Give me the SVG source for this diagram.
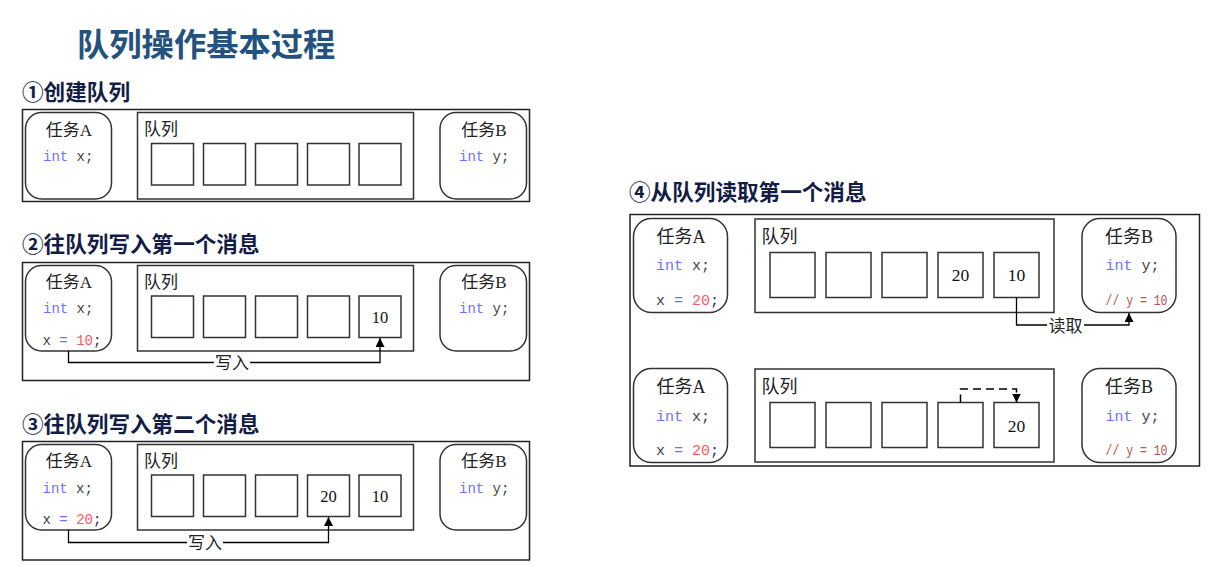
<svg xmlns="http://www.w3.org/2000/svg" width="1213" height="572" viewBox="0 0 1213 572">
<defs>
<marker id="ah" markerUnits="userSpaceOnUse" markerWidth="10" markerHeight="10" refX="9" refY="4.5" orient="auto">
<path d="M0,0 L9,4.5 L0,9 z" fill="#000"/>
</marker>
<style>
.title{font-family:"Noto Sans CJK SC","Noto Sans",sans-serif;font-weight:bold;font-size:32.3px;fill:#24527f}
.sub{font-family:"Noto Sans CJK SC","Noto Sans",sans-serif;font-weight:bold;font-size:21.6px;fill:#121c45}
.outer{fill:none;stroke:#222;stroke-width:1.5}
.task{fill:#fff;stroke:#333;stroke-width:1.5}
.queue{fill:#fff;stroke:#333;stroke-width:1.5}
.cell{fill:#fff;stroke:#333;stroke-width:1.5}
.lbl{font-family:"Liberation Serif","Noto Sans CJK SC",serif;font-size:17px;fill:#222}
.lbl4{font-family:"Liberation Serif","Noto Sans CJK SC",serif;font-size:18px;fill:#222}
.num{font-family:"Liberation Serif",serif;font-size:16.5px;fill:#111;text-anchor:middle}
.num4{font-family:"Liberation Serif",serif;font-size:17.5px;fill:#111;text-anchor:middle}
.code{font-family:"Liberation Mono","DejaVu Sans Mono",monospace;font-size:14px;fill:#444}
.code4{font-family:"Liberation Mono","DejaVu Sans Mono",monospace;font-size:15px;fill:#444}
.kw{fill:#6f6fff}
.val{fill:#ff5a5a}
.semi{fill:#2c2c66}
.cmt{font-family:"Liberation Mono","DejaVu Sans Mono",monospace;font-size:14.5px;fill:#c0504d}
.conn{fill:none;stroke:#000;stroke-width:1.3}
.dash{fill:none;stroke:#000;stroke-width:1.5;stroke-dasharray:8,5}
.clbl{font-family:"Liberation Serif","Noto Sans CJK SC",serif;font-size:17px;fill:#222;text-anchor:middle}
.mid{text-anchor:middle}
</style>
</defs>
<rect width="1213" height="572" fill="#fff"/>

<text class="title" x="77" y="56">队列操作基本过程</text>
<text class="sub" x="22" y="99.5">①创建队列</text>
<text class="sub" x="22" y="251.5">②往队列写入第一个消息</text>
<text class="sub" x="22" y="431.5">③往队列写入第二个消息</text>
<text class="sub" x="629" y="200">④从队列读取第一个消息</text>

<!-- Panel frames -->
<rect class="outer" x="22.5" y="109.5" width="507" height="92"/>
<rect class="outer" x="22.5" y="262.5" width="507" height="118"/>
<rect class="outer" x="22.5" y="441.5" width="507" height="118.5"/>
<rect class="outer" x="630" y="214.5" width="569.5" height="251.5"/>

<!-- Panel 1 -->
<g id="p1-taskA">
<rect class="task" x="25.5" y="112.5" width="86" height="86.5" rx="16"/>
<text class="lbl mid" x="69" y="135.5">任务A</text>
<text class="code" x="43" y="160.5"><tspan class="kw">int</tspan> x;</text>
</g>
<g id="p1-queue">
<rect class="queue" x="137.5" y="112.5" width="276" height="86.5"/>
<text class="lbl" x="144" y="135">队列</text>
<rect class="cell" x="151.5" y="143.5" width="42" height="41.5"/>
<rect class="cell" x="203.5" y="143.5" width="42" height="41.5"/>
<rect class="cell" x="255.5" y="143.5" width="42" height="41.5"/>
<rect class="cell" x="307.5" y="143.5" width="42" height="41.5"/>
<rect class="cell" x="359" y="143.5" width="42" height="41.5"/>
</g>
<g id="p1-taskB">
<rect class="task" x="440" y="112.5" width="86.5" height="86.5" rx="16"/>
<text class="lbl mid" x="484" y="135.5">任务B</text>
<text class="code" x="459" y="160.5"><tspan class="kw">int</tspan> y;</text>
</g>

<!-- Panel 2 -->
<g id="p2-taskA">
<rect class="task" x="25.5" y="265.5" width="86" height="85.5" rx="16"/>
<text class="lbl mid" x="69" y="288">任务A</text>
<text class="code" x="43" y="313"><tspan class="kw">int</tspan> x;</text>
<text class="code" x="42.5" y="345">x <tspan class="kw">=</tspan> <tspan class="val">10</tspan><tspan class="semi">;</tspan></text>
</g>
<g id="p2-queue">
<rect class="queue" x="137.5" y="265.5" width="276" height="85.5"/>
<text class="lbl" x="144" y="287.5">队列</text>
<rect class="cell" x="151.5" y="296" width="42" height="41.5"/>
<rect class="cell" x="203.5" y="296" width="42" height="41.5"/>
<rect class="cell" x="255.5" y="296" width="42" height="41.5"/>
<rect class="cell" x="307.5" y="296" width="42" height="41.5"/>
<rect class="cell" x="359" y="296" width="42" height="41.5"/>
<text class="num" x="380" y="322.5">10</text>
</g>
<g id="p2-taskB">
<rect class="task" x="440" y="265.5" width="86.5" height="85.5" rx="16"/>
<text class="lbl mid" x="484" y="288">任务B</text>
<text class="code" x="459" y="313"><tspan class="kw">int</tspan> y;</text>
</g>

<!-- Panel 3 -->
<g id="p3-taskA">
<rect class="task" x="25.5" y="444.5" width="86" height="85.5" rx="16"/>
<text class="lbl mid" x="69" y="467">任务A</text>
<text class="code" x="42.5" y="492.5"><tspan class="kw">int</tspan> x;</text>
<text class="code" x="42.5" y="523.5">x <tspan class="kw">=</tspan> <tspan class="val">20</tspan><tspan class="semi">;</tspan></text>
</g>
<g id="p3-queue">
<rect class="queue" x="137.5" y="444.5" width="276" height="85.5"/>
<text class="lbl" x="144" y="466.5">队列</text>
<rect class="cell" x="151.5" y="475" width="42" height="41.5"/>
<rect class="cell" x="203.5" y="475" width="42" height="41.5"/>
<rect class="cell" x="255.5" y="475" width="42" height="41.5"/>
<rect class="cell" x="307.5" y="475" width="42" height="41.5"/>
<rect class="cell" x="359" y="475" width="42" height="41.5"/>
<text class="num" x="328.5" y="501.5">20</text>
<text class="num" x="380" y="501.5">10</text>
</g>
<g id="p3-taskB">
<rect class="task" x="440" y="444.5" width="86.5" height="85.5" rx="16"/>
<text class="lbl mid" x="484" y="467">任务B</text>
<text class="code" x="459" y="492.5"><tspan class="kw">int</tspan> y;</text>
</g>

<!-- Panel 4 upper -->
<g id="p4a-taskA">
<rect class="task" x="633.5" y="218.5" width="94" height="94" rx="18"/>
<text class="lbl4 mid" x="681" y="242.5">任务A</text>
<text class="code4" x="656" y="270"><tspan class="kw">int</tspan> x;</text>
<text class="code4" x="656" y="304.5">x <tspan class="kw">=</tspan> <tspan class="val">20</tspan><tspan class="semi">;</tspan></text>
</g>
<g id="p4a-queue">
<rect class="queue" x="755" y="219" width="299" height="93.5"/>
<text class="lbl4" x="761.5" y="242.5">队列</text>
<rect class="cell" x="770" y="252.5" width="45" height="45"/>
<rect class="cell" x="826" y="252.5" width="45" height="45"/>
<rect class="cell" x="882" y="252.5" width="45" height="45"/>
<rect class="cell" x="938" y="252.5" width="45" height="45"/>
<rect class="cell" x="994" y="252.5" width="45" height="45"/>
<text class="num4" x="960.5" y="281">20</text>
<text class="num4" x="1016.5" y="281">10</text>
</g>
<g id="p4a-taskB">
<rect class="task" x="1082" y="218.5" width="94" height="94" rx="18"/>
<text class="lbl4 mid" x="1129" y="242.5">任务B</text>
<text class="code4" x="1105.5" y="270"><tspan class="kw">int</tspan> y;</text>
<text class="cmt" x="1105.5" y="305" textLength="62" lengthAdjust="spacingAndGlyphs">// y = 10</text>
</g>

<!-- Panel 4 lower -->
<g id="p4b-taskA">
<rect class="task" x="633.5" y="368.5" width="94" height="94" rx="18"/>
<text class="lbl4 mid" x="681" y="393">任务A</text>
<text class="code4" x="656" y="421"><tspan class="kw">int</tspan> x;</text>
<text class="code4" x="656" y="455">x <tspan class="kw">=</tspan> <tspan class="val">20</tspan><tspan class="semi">;</tspan></text>
</g>
<g id="p4b-queue">
<rect class="queue" x="755" y="369" width="299" height="93"/>
<text class="lbl4" x="761.5" y="393">队列</text>
<rect class="cell" x="770" y="402.5" width="45" height="45"/>
<rect class="cell" x="826" y="402.5" width="45" height="45"/>
<rect class="cell" x="882" y="402.5" width="45" height="45"/>
<rect class="cell" x="938" y="402.5" width="45" height="45"/>
<rect class="cell" x="994" y="402.5" width="45" height="45"/>
<text class="num4" x="1016.5" y="431.5">20</text>
</g>
<g id="p4b-taskB">
<rect class="task" x="1082" y="368.5" width="94" height="94" rx="18"/>
<text class="lbl4 mid" x="1129" y="393">任务B</text>
<text class="code4" x="1105.5" y="421"><tspan class="kw">int</tspan> y;</text>
<text class="cmt" x="1105.5" y="455" textLength="62" lengthAdjust="spacingAndGlyphs">// y = 10</text>
</g>

<!-- Connectors -->
<g id="connectors">
<path class="conn" d="M68.5,351 V362.5 H380 V338" marker-end="url(#ah)"/>
<rect x="214" y="353" width="36" height="19" fill="#fff"/>
<text class="clbl" x="232" y="369">写入</text>

<path class="conn" d="M68.5,530 V542.5 H328.5 V517" marker-end="url(#ah)"/>
<rect x="187" y="533" width="36" height="19" fill="#fff"/>
<text class="clbl" x="205" y="549">写入</text>

<path class="conn" d="M1016.5,297.5 V325 H1129 V313" marker-end="url(#ah)"/>
<rect x="1047" y="315.5" width="37" height="19" fill="#fff"/>
<text class="clbl" x="1065.5" y="331.5">读取</text>

<path class="dash" d="M960.5,402.5 V389 H1016.5 V402.5" marker-end="url(#ah)"/>
</g>
</svg>
